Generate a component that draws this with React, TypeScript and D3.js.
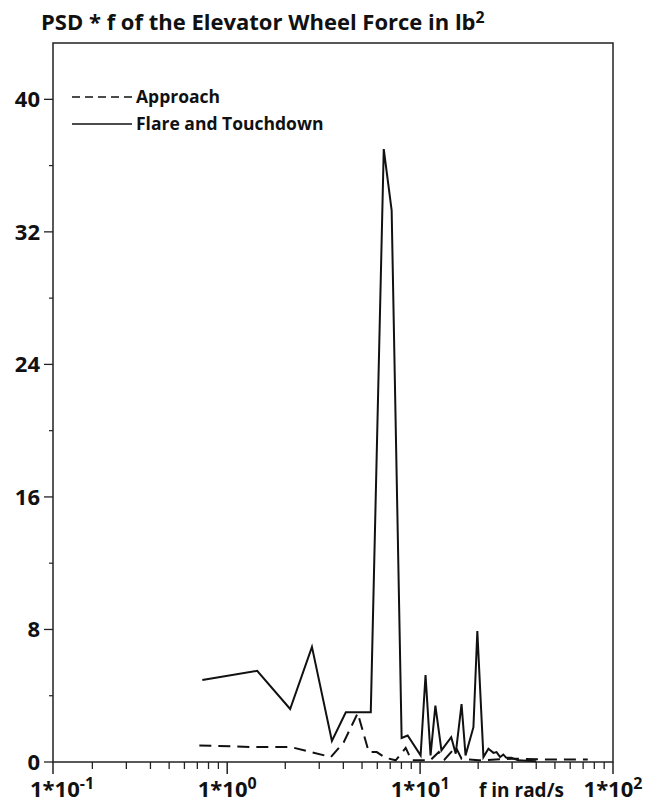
import React, { useEffect, useRef } from 'react';
import * as d3 from 'd3';

// Approach (dashed)
const approachFreq = [0.717, 1.41, 2.14, 3.45, 4.02, 4.75, 5.42, 5.96, 6.63, 7.47, 8.42, 9.03, 11.3, 12.5, 13.4, 15.3, 16.4, 20.1, 30, 45, 74];
const approachPsd = [1.0, 0.9, 0.9, 0.3, 1.2, 2.95, 0.6, 0.6, 0.25, 0.1, 0.85, 0.1, 0.1, 0.6, 0.15, 0.9, 0.2, 0.1, 0.2, 0.15, 0.15];

// Flare and Touchdown (solid)
const flareFreq = [0.743, 1.43, 2.12, 2.75, 3.49, 4.12, 5.55, 6.48, 7.12, 8.02, 8.62, 10.06, 10.67, 11.33, 12.0, 12.9, 14.5, 15.3, 16.4, 17.2, 18.9, 19.8, 21.3, 22.6, 24.0, 24.9, 26.0, 27.0, 28.0, 29.7, 32.3, 40];
const flarePsd = [4.95, 5.5, 3.2, 6.95, 1.27, 3.0, 3.0, 37, 33.3, 1.45, 1.6, 0.4, 5.25, 0.4, 3.4, 0.7, 1.5, 0.5, 3.5, 0.4, 2.1, 7.9, 0.3, 0.8, 0.55, 0.6, 0.3, 0.45, 0.25, 0.25, 0.1, 0.05];

const yTicks = [0, 8, 16, 24, 32, 40];
const yMinorTicks = [4, 12, 20, 28, 36];
const xTickExps = ['-1', '0', '1', '2'];
const xTickValues = [0.1, 1, 10, 100];

const legendLabels = ['Approach', 'Flare and Touchdown'];
const title = 'PSD * f of the Elevator Wheel Force in lb';

const App = () => {
  const ref = useRef<SVGSVGElement>(null);

  useEffect(() => {
    const svg = d3.select(ref.current);
    svg.selectAll('*').remove();

    const width = 649;
    const height = 804;
    const left = 53, right = 613, top = 43, bottom = 762;
    const font = "'Open Sans', 'Noto Sans', sans-serif";

    const x = d3.scaleLog().domain([0.125, 100]).range([left, right]);
    const y = d3.scaleLinear().domain([0, 43.4]).range([bottom, top]);

    svg.attr('width', width).attr('height', height);

    // title, sized to span the same width as the original
    const t = svg.append('text')
      .attr('x', 41).attr('y', 30)
      .style('font-family', font).style('font-weight', 700)
      .style('font-size', '20px').attr('fill', '#111');
    t.append('tspan').text(title);
    t.append('tspan').attr('dy', '-0.45em').style('font-size', '0.72em').text('2');
    const tw = (t.node() as SVGTextElement).getComputedTextLength();
    if (tw > 0) t.style('font-size', `${Math.min(23, 20 * 444 / tw)}px`);

    // frame
    svg.append('rect')
      .attr('x', left).attr('y', top)
      .attr('width', right - left).attr('height', bottom - top)
      .attr('fill', 'none').attr('stroke', '#222').attr('stroke-width', 1.5);

    // y ticks
    yTicks.forEach(v => {
      svg.append('line')
        .attr('x1', left - 9).attr('x2', left)
        .attr('y1', y(v)).attr('y2', y(v))
        .attr('stroke', '#222').attr('stroke-width', 1.3);
      svg.append('text')
        .attr('x', left - 13).attr('y', y(v)).attr('dy', '0.36em')
        .attr('text-anchor', 'end')
        .style('font-family', font).style('font-weight', 700).style('font-size', '22px')
        .attr('fill', '#111').text(v);
    });
    yMinorTicks.forEach(v => {
      svg.append('line')
        .attr('x1', left - 4).attr('x2', left)
        .attr('y1', y(v)).attr('y2', y(v))
        .attr('stroke', '#222').attr('stroke-width', 1.2);
    });

    // x ticks
    const minor: number[] = [];
    [-1, 0, 1].forEach(d => {
      for (let m = 2; m <= 9; m++) {
        const v = m * Math.pow(10, d);
        if (v > 0.125 && v < 100) minor.push(v);
      }
    });
    minor.forEach(v => {
      svg.append('line')
        .attr('x1', x(v)).attr('x2', x(v))
        .attr('y1', bottom).attr('y2', bottom + 7)
        .attr('stroke', '#222').attr('stroke-width', 1.3);
    });
    xTickValues.forEach((v, i) => {
      const px = i === 0 ? left : x(v);
      svg.append('line')
        .attr('x1', px).attr('x2', px)
        .attr('y1', bottom).attr('y2', bottom + 12)
        .attr('stroke', '#222').attr('stroke-width', 1.5);
      const lab = svg.append('text')
        .attr('x', px).attr('y', 797)
        .attr('text-anchor', 'middle')
        .style('font-family', font).style('font-weight', 700).style('font-size', '22px')
        .attr('fill', '#111');
      lab.append('tspan').text('1*10');
      lab.append('tspan').attr('dy', '-0.5em').style('font-size', '16px').text(xTickExps[i]);
      const node = lab.node() as SVGTextElement;
      const w = node.getComputedTextLength();
      if (px + w / 2 > 646) lab.attr('text-anchor', 'end').attr('x', 646);
      if (px - w / 2 < 30) lab.attr('text-anchor', 'start').attr('x', 30);
    });
    svg.append('text')
      .attr('x', 479).attr('y', 797)
      .style('font-family', font).style('font-weight', 700).style('font-size', '19px')
      .attr('fill', '#111').text('f in rad/s');

    const line = d3.line<[number, number]>()
      .x(d => x(d[0]))
      .y(d => y(d[1]));

    const g = svg.append('g');

    g.append('path')
      .attr('d', line(approachFreq.map((f, i) => [f, approachPsd[i]])))
      .attr('fill', 'none').attr('stroke', '#111').attr('stroke-width', 2)
      .attr('stroke-dasharray', '12,7');

    g.append('path')
      .attr('d', line(flareFreq.map((f, i) => [f, flarePsd[i]])))
      .attr('fill', 'none').attr('stroke', '#111').attr('stroke-width', 2)
      .attr('stroke-linejoin', 'miter');

    // legend
    const legY = [97, 124];
    legY.forEach((ly, i) => {
      svg.append('line')
        .attr('x1', 72).attr('x2', 132)
        .attr('y1', ly).attr('y2', ly)
        .attr('stroke', '#111').attr('stroke-width', 1.6)
        .attr('stroke-dasharray', i === 0 ? '8,5' : null);
      svg.append('text')
        .attr('x', 136).attr('y', ly).attr('dy', '0.36em')
        .style('font-family', font).style('font-weight', 700).style('font-size', '17.5px')
        .attr('fill', '#111').text(legendLabels[i]);
    });
  }, []);

  return (
    <div style={{ position: 'absolute', left: 0, top: 0, background: '#fff' }}>
      <svg ref={ref}></svg>
    </div>
  );
};

export default App;
